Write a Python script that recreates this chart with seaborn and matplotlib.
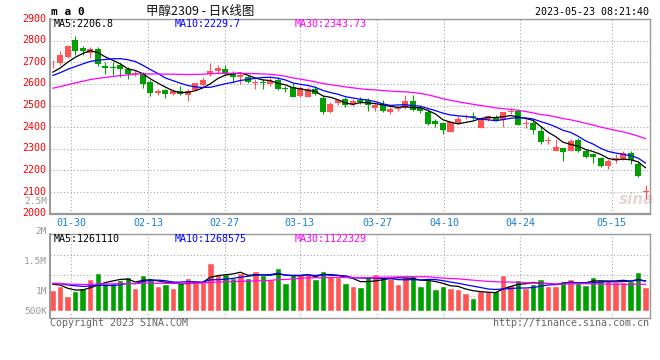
import numpy as np
import pandas as pd
import matplotlib
matplotlib.use("Agg")
import matplotlib.pyplot as plt
from matplotlib.transforms import ScaledTranslation
import seaborn as sns

# ---------------- data ----------------
open_ = [2690, 2697, 2724, 2801, 2765, 2745, 2760, 2685, 2678, 2689,
         2670, 2648, 2650, 2608, 2558, 2570, 2555, 2569, 2551, 2573,
         2596, 2646, 2661, 2668, 2648, 2630, 2630, 2606, 2606, 2598,
         2618, 2579, 2585, 2542, 2540, 2577, 2535, 2472, 2510, 2532,
         2505, 2527, 2524, 2489, 2504, 2472, 2483, 2487, 2519, 2489,
         2471, 2429, 2418, 2377, 2418, 2447, 2450, 2398, 2436, 2448,
         2433, 2472, 2474, 2413, 2418, 2383, 2337, 2290, 2304, 2289,
         2342, 2289, 2274, 2256, 2222, 2253, 2252, 2282, 2229, 2100]
high = [2710, 2750, 2781, 2821, 2773, 2772, 2772, 2700, 2700, 2698,
        2678, 2662, 2657, 2616, 2577, 2578, 2576, 2590, 2577, 2606,
        2632, 2698, 2686, 2688, 2660, 2650, 2640, 2622, 2623, 2633,
        2633, 2592, 2603, 2590, 2585, 2590, 2542, 2517, 2532, 2538,
        2528, 2539, 2535, 2509, 2524, 2491, 2498, 2547, 2551, 2497,
        2482, 2436, 2426, 2427, 2453, 2463, 2471, 2444, 2456, 2456,
        2470, 2489, 2483, 2438, 2429, 2407, 2354, 2347, 2306, 2345,
        2350, 2301, 2282, 2264, 2251, 2274, 2292, 2289, 2241, 2133]
low = [2673, 2688, 2722, 2735, 2735, 2722, 2682, 2645, 2642, 2632,
       2622, 2636, 2582, 2545, 2547, 2535, 2547, 2548, 2522, 2570,
       2590, 2638, 2646, 2642, 2610, 2600, 2603, 2577, 2577, 2588,
       2570, 2562, 2538, 2540, 2538, 2547, 2463, 2466, 2502, 2491,
       2498, 2506, 2476, 2474, 2469, 2460, 2476, 2486, 2474, 2466,
       2410, 2400, 2370, 2377, 2413, 2438, 2438, 2396, 2429, 2429,
       2403, 2463, 2408, 2395, 2370, 2324, 2320, 2289, 2244, 2288,
       2286, 2256, 2233, 2217, 2206, 2236, 2247, 2229, 2168, 2070]
close = [2694, 2733, 2773, 2753, 2750, 2760, 2690, 2672, 2675, 2667,
         2645, 2652, 2598, 2556, 2569, 2553, 2566, 2553, 2566, 2604,
         2619, 2660, 2675, 2646, 2630, 2641, 2610, 2608, 2603, 2615,
         2577, 2576, 2539, 2580, 2577, 2554, 2471, 2509, 2524, 2502,
         2519, 2516, 2502, 2504, 2476, 2482, 2494, 2519, 2479, 2477,
         2415, 2415, 2385, 2423, 2438, 2449, 2447, 2441, 2451, 2433,
         2468, 2475, 2410, 2416, 2388, 2330, 2340, 2309, 2285, 2338,
         2289, 2264, 2260, 2221, 2244, 2255, 2280, 2247, 2173, 2104]
# closes before the visible window, estimated from where the MA lines start
prior_close = [2505, 2515, 2498, 2520, 2530, 2525, 2540, 2535, 2550, 2545,
               2560, 2555, 2570, 2565, 2575, 2580, 2570, 2590, 2585, 2595,
               2605, 2615, 2630, 2625, 2645, 2636, 2638, 2640, 2662]

volume_k = [911, 1100, 660, 880, 1012, 1395, 1672, 1232, 1232, 1351,
            1483, 1012, 1584, 1395, 1100, 1162, 1012, 1263, 1439, 1276,
            1263, 2112, 1628, 1628, 1452, 1646, 1426, 1760, 1584, 1395,
            1892, 1219, 1584, 1628, 1628, 1395, 1760, 1540, 1470, 1232,
            1100, 1056, 1540, 1628, 1483, 1426, 1188, 1483, 1540, 1087,
            1351, 955, 1087, 1012, 955, 779, 572, 880, 880, 867,
            1584, 1118, 1351, 999, 1162, 1395, 1087, 1087, 1307, 1395,
            1232, 1118, 1483, 1351, 1351, 1250, 1250, 1307, 1703, 1043]
prior_volume_k = [1050, 1120, 1230, 1210, 1300, 1150, 1090, 1240, 1180, 1270,
                  1130, 1060, 1220, 1310, 1150, 1200, 1250, 1100, 1190, 1130,
                  1180, 1320, 1210, 1290, 1250, 1255, 1385, 1255, 1004]

date_labels = ["01-30", "02-13", "02-27", "03-13", "03-27", "04-10", "04-24", "05-15"]
price_ticks = [2000, 2100, 2200, 2300, 2400, 2500, 2600, 2700, 2800, 2900]
vol_labels = ["2.5M", "2M", "1.5M", "1M", "500K"]
price_ma_text = ["MA5:2206.8", "MA10:2229.7", "MA30:2343.73"]
vol_ma_text = ["MA5:1261110", "MA10:1268575", "MA30:1122329"]

# ---------------- layout / style ----------------
date_tick_pos = [2.5, 12.7, 22.9, 32.9, 43.2, 52.2, 62.3, 74.5]
vol_label_ypix = [201, 231, 261, 291, 311]
RED = "#ff5555"
GREEN = "#00a000"
MA_COLORS = ["#000000", "#0000ff", "#ff00ff"]
FRAME = "#999999"
GRID = "#a8a8a8"

sns.set_theme(style="white")
plt.rcParams["font.family"] = ["DejaVu Sans Mono", "Noto Sans CJK SC"]

W, H = 660, 360
fig = plt.figure(figsize=(6.6, 3.6), dpi=100)
fig.patch.set_facecolor("white")


def box(l, t, r, b):
    return [l / W, 1 - b / H, (r - l) / W, (b - t) / H]


ax = fig.add_axes(box(50, 19, 650, 213.7))
axv = fig.add_axes(box(50, 234.3, 650, 318.3))

idx = np.arange(len(close))
o = np.array(open_, float)
c = np.array(close, float)
up = c >= o
cols = np.where(up, RED, GREEN)

# moving averages
all_close = pd.Series(prior_close + close, dtype=float)
all_vol = pd.Series(prior_volume_k + volume_k, dtype=float) * 1000
npc = len(prior_close)
npv = len(prior_volume_k)
price_ma = [all_close.rolling(n).mean().iloc[npc:].to_numpy() for n in (5, 10, 30)]
vol_ma = [all_vol.rolling(n).mean().iloc[npv:].to_numpy() for n in (5, 10, 30)]

# ---------------- price panel ----------------
ax.vlines(idx, low, high, colors=cols, linewidth=0.8, zorder=2)
ax.bar(idx, np.maximum(np.abs(c - o), 4), bottom=np.minimum(o, c), width=0.8,
       color=cols, linewidth=0, zorder=2)
for m, col in zip(price_ma, MA_COLORS):
    sns.lineplot(x=idx, y=m, color=col, linewidth=0.9, estimator=None, ax=ax, zorder=3)

ax.set_xlim(-0.36, 79.58)
ax.set_ylim(2000, 2900)
ax.set_yticks(price_ticks)
ax.set_yticklabels([str(t) for t in price_ticks])
ax.set_xticks(date_tick_pos)
ax.set_xticklabels(date_labels)
ax.set_xlabel("")
ax.set_ylabel("")
ax.grid(True, color=GRID, linestyle=(0, (1, 2)), linewidth=0.8)
ax.set_axisbelow(True)
ax.tick_params(axis="y", length=0, pad=3, labelsize=7.2, labelcolor="#ff0000")
ax.tick_params(axis="x", length=0, pad=3, labelsize=7.2, labelcolor="#1a80d0")
lift = ScaledTranslation(0, 0.015, fig.dpi_scale_trans)
for lab in ax.get_yticklabels():
    lab.set_transform(lab.get_transform() + lift)
for s in ax.spines.values():
    s.set_color(FRAME)
    s.set_linewidth(1.0)
ax.spines["bottom"].set_linewidth(1.6)
ax.spines["left"].set_linewidth(1.4)

ax.text(0.977, 0.075, "sina", transform=ax.transAxes, ha="center", va="center",
        fontsize=11, fontweight="bold", style="italic", color="#e6d6d6",
        family="DejaVu Sans", zorder=0)

# ---------------- volume panel ----------------
vdf = pd.DataFrame({"i": idx, "vol": np.array(volume_k) * 1000,
                    "dir": np.where(up, "up", "down")})
sns.barplot(data=vdf, x="i", y="vol", hue="dir", palette={"up": RED, "down": GREEN},
            dodge=False, width=0.86, saturation=1, errorbar=None, legend=False,
            ax=axv, zorder=2)
for m, col in zip(vol_ma, MA_COLORS):
    sns.lineplot(x=idx, y=m, color=col, linewidth=0.9, estimator=None, ax=axv, zorder=3)

v0, v1 = -334e3, 3362e3
axv.set_xlim(-0.36, 79.58)
axv.set_ylim(v0, v1)
axv.set_xticks(date_tick_pos)
axv.set_xticklabels([])
axv.set_yticks([v0 + f * (v1 - v0) for f in (0.269, 0.512, 0.754)])
axv.set_yticklabels([])
axv.set_xlabel("")
axv.set_ylabel("")
axv.grid(True, color=GRID, linestyle=(0, (1, 2)), linewidth=0.8)
axv.set_axisbelow(True)
axv.tick_params(length=0)
for s in axv.spines.values():
    s.set_color(FRAME)
    s.set_linewidth(1.0)
axv.spines["left"].set_linewidth(1.4)

# ---------------- texts ----------------
def ftext(x, y, s, **kw):
    return fig.text(x / W, 1 - y / H, s, va="center", **kw)


ftext(51, 12, "m a 0", fontsize=8, fontweight="bold", color="black")
ftext(200, 12, "甲醇2309 - 日K线图", ha="center", fontsize=9, color="#111111",
      family=["Noto Sans CJK SC", "DejaVu Sans"])
ftext(649, 12, "2023-05-23 08:21:40", ha="right", fontsize=7.2, color="black")

for xs, s, col in zip((54, 175, 295), price_ma_text, MA_COLORS):
    ftext(xs, 24, s, fontsize=7.2, color=col)
for xs, s, col in zip((54, 175, 295), vol_ma_text, MA_COLORS):
    ftext(xs, 238.5, s, fontsize=7.2, color=col)

for s, yp in zip(vol_labels, vol_label_ypix):
    ftext(47, yp, s, ha="right", fontsize=6.8, color="#999999")

ftext(50, 323.5, "Copyright 2023 SINA.COM", fontsize=7.2, color="#666666")
ftext(649, 323.5, "http://finance.sina.com.cn", ha="right", fontsize=7.2, color="#666666")

fig.savefig("out.png", dpi=100, facecolor="white")
